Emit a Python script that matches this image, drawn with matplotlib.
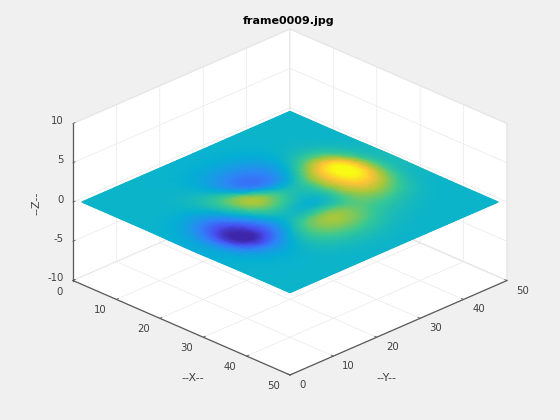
import numpy as np
import matplotlib
matplotlib.use("Agg")
import matplotlib.pyplot as plt
import matplotlib.tri as mtri
from matplotlib.colors import LinearSegmentedColormap
from mpl_toolkits.mplot3d import proj3d

plt.rcParams.update({
    "font.family": "DejaVu Sans", "font.size": 7.3, "axes.unicode_minus": False,
    "figure.facecolor": "#F0F0F0", "grid.color": "#E9E9E9", "grid.linewidth": 0.5,
    "xtick.major.width": 0.6, "ytick.major.width": 0.6, "axes.linewidth": 0.6,
})

PARULA = ["#3E26A8", "#4852F4", "#2E87F7", "#04B0D4", "#37C897", "#ABC739", "#FEC338", "#F9FB15"]
AXIS_GREY = "#5A5A5A"; PANE_EDGE = "#E2E2E2"; TEXT = "#404040"

title = "frame0009.jpg"
x_ticks = [0, 10, 20, 30, 40, 50]
y_ticks = [0, 10, 20, 30, 40, 50]
z_ticks = [-10, -5, 0, 5, 10]

# grid of the surface, values estimated from the colours in the picture
grid_x = [1, 2.5, 5.5, 8.5, 11.5, 14.5, 17.5, 20.5, 23.5, 26.5, 29.5, 32.5, 35.5, 38.5, 41.5, 44.5, 47.5, 49]
grid_y = grid_x
rows = [
    [0, 0, 0, .01, -.01, -.09, -.27, -.47, -.55, -.46, -.27, -.11, -.03, -.01, 0, 0],
    [0, .01, .02, .02, -.05, -.35, -.96, -1.65, -1.92, -1.58, -.92, -.39, -.11, -.02, 0, 0],
    [0, .01, .04, .06, -.07, -.71, -2.16, -3.79, -4.52, -3.74, -2.16, -.89, -.24, -.04, 0, 0],
    [0, .01, .06, .16, .13, -.56, -2.54, -5.12, -6.49, -5.51, -3.12, -1.18, -.26, -.02, .01, 0],
    [0, -.01, .04, .24, .69, .85, -.33, -2.93, -5.01, -4.58, -2.37, -.55, .14, .16, .06, .02],
    [-.02, -.08, -.18, -.09, .72, 2.16, 2.8, 1.2, -1.19, -1.61, -.15, .98, .97, .5, .16, .04],
    [-.05, -.22, -.62, -1.04, -.53, 1.5, 3.55, 3.06, .9, .38, 1.78, 2.57, 1.93, .9, .28, .06],
    [-.08, -.34, -1.04, -2.05, -2.24, -.45, 2.05, 2.24, .62, .64, 2.56, 3.46, 2.53, 1.17, .36, .08],
    [-.09, -.37, -1.15, -2.39, -3.03, -1.74, .57, 1.11, .09, .53, 2.56, 3.45, 2.51, 1.16, .36, .08],
    [-.07, -.29, -.91, -1.9, -2.49, -1.6, .22, .84, .28, .65, 2.1, 2.68, 1.92, .88, .27, .06],
    [-.04, -.16, -.48, -.95, -.99, .13, 2.04, 3.08, 2.82, 2.41, 2.35, 2.01, 1.24, .54, .16, .03],
    [-.01, -.06, -.13, -.1, .56, 2.34, 4.95, 6.71, 6.62, 5.13, 3.33, 1.87, .86, .31, .08, .02],
    [0, 0, .04, .3, 1.2, 3.11, 5.76, 7.66, 7.64, 5.83, 3.43, 1.63, .6, .18, .04, .01],
    [0, .01, .06, .27, .9, 2.16, 3.88, 5.13, 5.13, 3.9, 2.23, 1.0, .34, .09, .02, 0],
    [0, .01, .03, .12, .39, .92, 1.64, 2.16, 2.16, 1.64, .93, .41, .14, .04, .01, 0],
    [0, 0, .01, .04, .12, .27, .48, .63, .63, .48, .27, .12, .04, .01, 0, 0],
]
height_per_value = 0.13   # the surface is nearly flat, its bumps are only ~1 unit high

fig = plt.figure(figsize=(5.6, 4.2), dpi=100)
ax = fig.add_axes([74.3 / 560, 2.3 / 420, 420 / 560, 420 / 420], projection="3d")
ax.set_proj_type("ortho")
ax.view_init(elev=25.8, azim=-45)
ax.set_box_aspect((307, 307, 174.5), zoom=1.081)
ax.set_xlim(0, 50, view_margin=0)
ax.set_ylim(0, 50, view_margin=0)
ax.set_zlim(-10, 10, view_margin=0)
ax.set_xticks(x_ticks); ax.set_yticks(y_ticks); ax.set_zticks(z_ticks)
ax.set_xticklabels([]); ax.set_yticklabels([]); ax.set_zticklabels([])
ax.patch.set_alpha(0)

for axis in (ax.xaxis, ax.yaxis, ax.zaxis):
    axis.set_pane_color("white")
    axis.pane.set_edgecolor(PANE_EDGE)
    axis.pane.set_linewidth(0.8)
    axis.line.set_color(AXIS_GREY)
    axis.line.set_linewidth(0.9)
    axis._axinfo["tick"]["inward_factor"] = 0.0
    axis._axinfo["tick"]["outward_factor"] = 0.12
ax.tick_params(color=AXIS_GREY)
ax.zaxis.set_ticks_position("lower")

fig.canvas.draw()


def to_pixels(x, y, z):
    px, py, _ = proj3d.proj_transform(np.asarray(x, float), np.asarray(y, float), np.asarray(z, float), ax.get_proj())
    return ax.transData.transform(np.column_stack([px, py]))


# surface goes on its own full-figure axes, in pixels, so it can be gouraud shaded
values = np.pad(np.array(rows), 1, mode="edge")
X, Y = np.meshgrid(grid_x, grid_y)
refiner = mtri.UniformTriRefiner(mtri.Triangulation(X.ravel(), Y.ravel()))
fine, fine_values = refiner.refine_field(values.ravel(), subdiv=3)
pts = to_pixels(fine.x, fine.y, fine_values * height_per_value)

ax2 = fig.add_axes([0, 0, 1, 1])
ax2.set_xlim(0, 560); ax2.set_ylim(0, 420)
ax2.axis("off")
cmap = LinearSegmentedColormap.from_list("parula", PARULA)
ax2.tripcolor(pts[:, 0], pts[:, 1], fine.triangles, fine_values, shading="gouraud",
              cmap=cmap, vmin=-6.2, vmax=7.6)

# tick labels, anchored at the projected tick positions
for v, p in zip(x_ticks, to_pixels(x_ticks, [0] * 6, [-10] * 6)):
    ax2.annotate(str(v), xy=p, xytext=(-10, -11), textcoords="offset pixels", ha="right", va="center", color=TEXT)
for v, p in zip(y_ticks, to_pixels([50] * 6, y_ticks, [-10] * 6)):
    ax2.annotate(str(v), xy=p, xytext=(9, -10), textcoords="offset pixels", ha="left", va="center", color=TEXT)
for v, p in zip(z_ticks, to_pixels([0] * 5, [0] * 5, z_ticks)):
    ax2.annotate(str(v), xy=p, xytext=(-9.5, 2.5), textcoords="offset pixels", ha="right", va="center", color=TEXT)

fig.text(289 / 560, 1 - 21 / 420, title, ha="center", va="center", fontsize=8, fontweight="bold", color="black")
fig.text(193 / 560, 1 - 378 / 420, "--X--", ha="center", va="center", fontsize=8, color=TEXT)
fig.text(386 / 560, 1 - 378 / 420, "--Y--", ha="center", va="center", fontsize=8, color=TEXT)
fig.text(36 / 560, 1 - 203 / 420, "--Z--", ha="center", va="center", fontsize=8, rotation=90, color=TEXT)

fig.savefig("out.png", dpi=100)
